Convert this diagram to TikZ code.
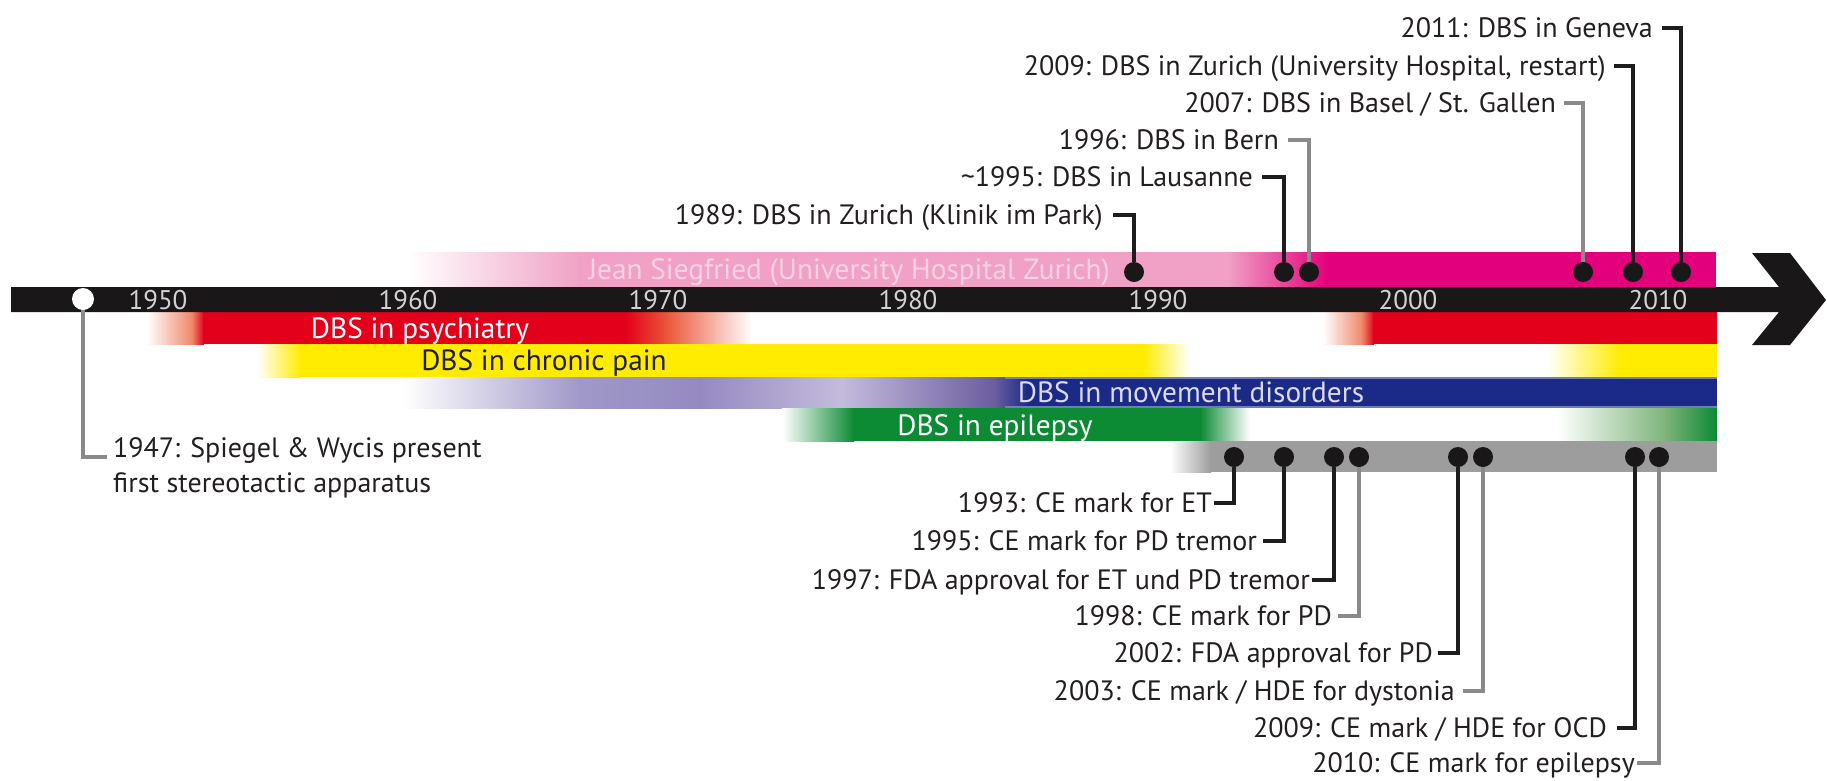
\documentclass[tikz,border=0pt]{standalone}
\usepackage{fontspec}
\setmainfont{PT Sans}
\definecolor{pinkL}{HTML}{F0A1C5}
\definecolor{magentaC}{HTML}{E3007C}
\definecolor{redC}{HTML}{E2001A}
\definecolor{redmid}{HTML}{EF8566}
\definecolor{redmidb}{HTML}{EA5A3C}
\definecolor{yelC}{HTML}{FFEC00}
\definecolor{lavA}{HTML}{A098C8}
\definecolor{lavB}{HTML}{948AC0}
\definecolor{lavC}{HTML}{C3BCDC}
\definecolor{purD}{HTML}{6A5C9E}
\definecolor{navy}{HTML}{1B2A86}
\definecolor{navyedge}{HTML}{6F7EB8}
\definecolor{grnC}{HTML}{0C8A34}
\definecolor{grnmid}{HTML}{7DB47A}
\definecolor{grayB}{HTML}{9D9D9D}
\definecolor{barC}{HTML}{1A1718}
\definecolor{labC}{HTML}{231F20}
\definecolor{lineD}{HTML}{1E1C1D}
\definecolor{lineG}{HTML}{8A8A8A}
\definecolor{yearC}{HTML}{D2D2D2}
\definecolor{jeanC}{HTML}{F8D2E2}
\definecolor{mvC}{HTML}{D9DAF0}
\begin{document}
\begin{tikzpicture}[x=1pt,y=-1pt,
  lbl/.style={font=\fontsize{28}{31}\selectfont, inner sep=0pt, text height=19.6pt, text depth=0pt, text=labC},
  yr/.style={font=\fontsize{27}{30}\selectfont, inner sep=0pt, text height=19pt, text depth=0pt, text=yearC},
  bandtxt/.style={font=\fontsize{29.3}{32}\selectfont, inner sep=0pt, text height=20.5pt, text depth=0pt},
  dotn/.style={circle, fill=barC, inner sep=0pt, minimum size=20pt},
  wdot/.style={circle, fill=white, inner sep=0pt, minimum size=22pt},
  conn/.style={line width=3.5pt, draw=lineD},
  conng/.style={line width=3.5pt, draw=lineG}]
\useasboundingbox (0,0) rectangle (1827,780);

% --- pink band (Jean Siegfried)
\shade[left color=white,right color=pinkL] (408,252) rectangle (581,287);
\fill[pinkL] (580,252) rectangle (1228,287);
\shade[left color=pinkL,right color=magentaC] (1227,252) rectangle (1328,287);
\fill[magentaC] (1327,252) rectangle (1716,287);

% --- red band (psychiatry)
\shade[left color=white,right color=redmid] (147,312) rectangle (193,344);
\shade[left color=redmid,right color=redC] (192,312) rectangle (204,344);
\fill[redC] (203,312) rectangle (626,344);
\shade[left color=redC,right color=redmidb] (625,312) rectangle (669,344);
\shade[left color=redmidb,right color=white] (668,312) rectangle (752,344);
\shade[left color=white,right color=redmid] (1323,312) rectangle (1363,344);
\shade[left color=redmid,right color=redC] (1362,312) rectangle (1374,344);
\fill[redC] (1373,312) rectangle (1717,344);

% --- yellow band (chronic pain)
\shade[left color=white,right color=yelC] (257,344) rectangle (301,377);
\fill[yelC] (300,344) rectangle (1144,377);
\shade[left color=yelC,right color=white] (1143,344) rectangle (1190,377);
\shade[left color=white,right color=yelC] (1547,344) rectangle (1621,377);
\fill[yelC] (1620,344) rectangle (1717,377);

% --- blue band (movement disorders)
\shade[left color=white,right color=lavA] (403,377) rectangle (581,408);
\shade[left color=lavA,right color=lavB] (580,377) rectangle (701,408);
\shade[left color=lavB,right color=lavC] (700,377) rectangle (842,408);
\shade[left color=lavC,right color=purD] (841,377) rectangle (996,408);
\shade[left color=purD,right color=navy] (995,377) rectangle (1028,408);
\fill[navy] (1027,377) rectangle (1717,408);
\draw[navyedge, line width=1.5pt] (1005,378) -- (1717,378) (1005,407) -- (1717,407);

% --- green band (epilepsy)
\shade[left color=white,right color=grnC] (782,408) rectangle (854,441);
\fill[grnC] (853,408) rectangle (1201,441);
\shade[left color=grnC,right color=white] (1200,408) rectangle (1250,441);
\shade[left color=white,right color=grnmid] (1557,408) rectangle (1666,441);
\shade[left color=grnmid,right color=grnC] (1665,408) rectangle (1717,441);

% --- gray band (approvals)
\shade[left color=white,right color=grayB] (1170,441) rectangle (1211,472);
\fill[grayB] (1210,441) rectangle (1717,472);

% --- time axis with arrow head
\fill[barC] (11,287) -- (1779,287) -- (1752,253) -- (1790,253) -- (1826,300)
  -- (1790,345) -- (1752,345) -- (1779,312) -- (11,312) -- cycle;

% --- year labels
\node[yr] (y1950) at (158,300) {1950};
\node[yr] (y1960) at (408,300) {1960};
\node[yr] (y1970) at (658,300) {1970};
\node[yr] (y1980) at (908,300) {1980};
\node[yr] (y1990) at (1158,300) {1990};
\node[yr] (y2000) at (1408,300) {2000};
\node[yr] (y2010) at (1658,300) {2010};

% --- band texts
\node[bandtxt, text=jeanC, anchor=east] (jean) at (1110,269) {Jean Siegfried (University Hospital Zurich)};
\node[bandtxt, text=white] (psy) at (420,328) {DBS in psychiatry};
\node[bandtxt, text=labC] (pain) at (544,360) {DBS in chronic pain};
\node[bandtxt, text=mvC] (move) at (1191,392) {DBS in movement disorders};
\node[bandtxt, text=white] (epi) at (995,425) {DBS in epilepsy};

% --- 1947 event
\node[wdot] (w1947) at (83,299) {};
\node[lbl, anchor=base west] (t1947a) at (113,457) {1947: Spiegel \& Wycis present};
\node[lbl, anchor=base west] (t1947b) at (113,492) {first stereotactic apparatus};
\draw[conng] (w1947.south) |- ([xshift=-6pt]t1947a.base west);

% --- centres (dots on the pink band)
\node[dotn] (d1989) at (1134,272) {};
\node[dotn] (d1995) at (1284,272) {};
\node[dotn] (d1996) at (1309,272) {};
\node[dotn] (d2007) at (1583,272) {};
\node[dotn] (d2009) at (1633,272) {};
\node[dotn] (d2011) at (1681,272) {};

\node[lbl, anchor=east] (t2011) at (1653,28) {2011: DBS in Geneva};
\node[lbl, anchor=east] (t2009) at (1606,66) {2009: DBS in Zurich (University Hospital, restart)};
\node[lbl, anchor=east] (t2007) at (1556,103) {2007: DBS in Basel / St. Gallen};
\node[lbl, anchor=east] (t1996) at (1279,140) {1996: DBS in Bern};
\node[lbl, anchor=east] (t1995) at (1253,177) {\textasciitilde1995: DBS in Lausanne};
\node[lbl, anchor=east] (t1989) at (1103,215) {1989: DBS in Zurich (Klinik im Park)};

\draw[conn]  (d2011.north) |- ([xshift=9pt]t2011.east);
\draw[conn]  (d2009.north) |- ([xshift=8pt]t2009.east);
\draw[conng] (d2007.north) |- ([xshift=8pt]t2007.east);
\draw[conng] (d1996.north) |- ([xshift=9pt]t1996.east);
\draw[conn]  (d1995.north) |- ([xshift=9pt]t1995.east);
\draw[conn]  (d1989.north) |- ([xshift=10pt]t1989.east);

% --- approvals (dots on the gray band)
\node[dotn] (b1993) at (1234,457) {};
\node[dotn] (b1995) at (1284,457) {};
\node[dotn] (b1997) at (1334,457) {};
\node[dotn] (b1998) at (1359,457) {};
\node[dotn] (b2002) at (1458,457) {};
\node[dotn] (b2003) at (1483,457) {};
\node[dotn] (b2009) at (1635,457) {};
\node[dotn] (b2010) at (1659,457) {};

\node[lbl, anchor=east] (u1993) at (1212,503) {1993: CE mark for ET};
\node[lbl, anchor=east] (u1995) at (1257,541) {1995: CE mark for PD tremor};
\node[lbl, anchor=east] (u1997) at (1310,580) {1997: FDA approval for ET und PD tremor};
\node[lbl, anchor=east] (u1998) at (1332,616) {1998: CE mark for PD};
\node[lbl, anchor=east] (u2002) at (1433,653) {2002: FDA approval for PD};
\node[lbl, anchor=east] (u2003) at (1455,691) {2003: CE mark / HDE for dystonia};
\node[lbl, anchor=east] (u2009) at (1607,728) {2009: CE mark / HDE for OCD};
\node[lbl, anchor=east] (u2010) at (1635,763) {2010: CE mark for epilepsy};

\draw[conn]  (b1993.south) |- ([xshift=2pt]u1993.east);
\draw[conn]  (b1995.south) |- ([xshift=6pt]u1995.east);
\draw[conn]  (b1997.south) |- ([xshift=2pt]u1997.east);
\draw[conng] (b1998.south) |- ([xshift=6pt]u1998.east);
\draw[conn]  (b2002.south) |- ([xshift=5pt]u2002.east);
\draw[conng] (b2003.south) |- ([xshift=8pt]u2003.east);
\draw[conn]  (b2009.south) |- ([xshift=10pt]u2009.east);
\draw[conng] (b2010.south) |- ([xshift=2pt]u2010.east);
\end{tikzpicture}
\end{document}
